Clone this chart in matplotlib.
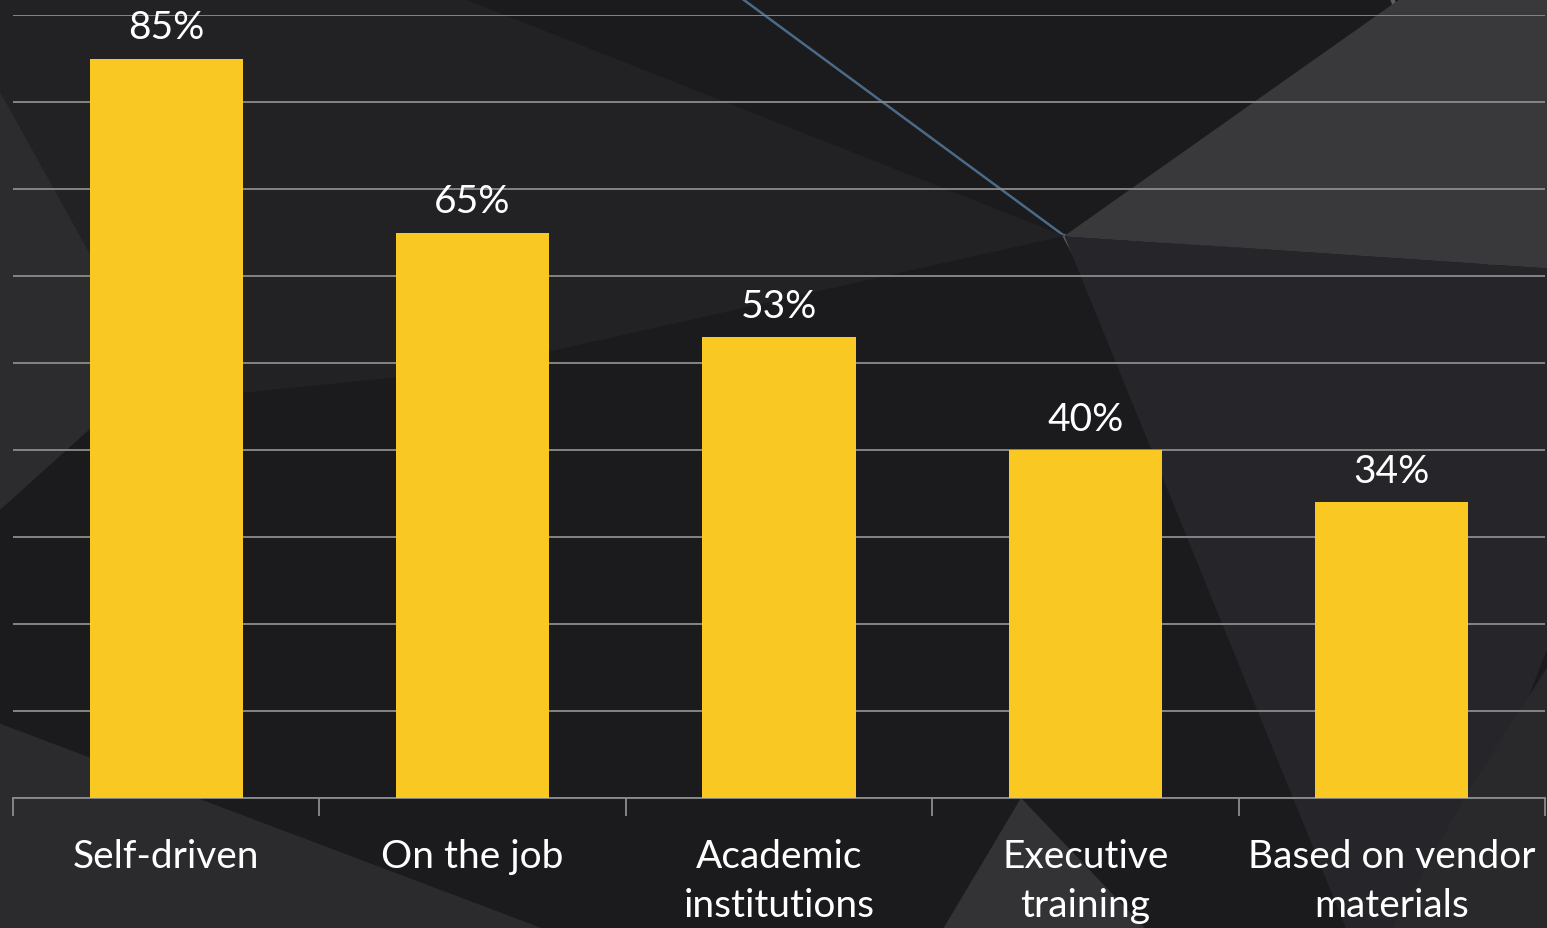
import numpy as np
import matplotlib.pyplot as plt
from matplotlib.patches import Polygon

categories = ["Self-driven", "On the job", "Academic\ninstitutions", "Executive\ntraining", "Based on vendor\nmaterials"]
values = [0.85, 0.65, 0.53, 0.40, 0.34]
labels = ["85%", "65%", "53%", "40%", "34%"]

bar_color = "#F9C823"
grid_color = "#8c8c8c"
plt.rcParams['font.family'] = ['Lato', 'DejaVu Sans']

fig = plt.figure(figsize=(15.47, 9.29), dpi=100)
fig.patch.set_facecolor("#1b1b1d")

#background decoration (figure coords), loosely following the dark geometric backdrop
shapes = [
    ([(0, 1), (0.30, 1), (0.688, 0.745), (0.30, 0.60), (0, 0.55)], "#222225"),
    ([(0, 0.90), (0.10, 0.60), (0, 0.45)], "#2c2c2f"),
    ([(0.688, 0.745), (0.905, 1), (1, 1), (1, 0.71)], "#39393b"),
    ([(0.688, 0.745), (1, 0.71), (1, 0.30), (0.93, 0.0), (0.87, 0.0)], "#25252a"),
    ([(0, 0.22), (0.35, 0.0), (0, 0.0)], "#2b2b2d"),
    ([(0.61, 0.0), (0.66, 0.14), (0.74, 0.0)], "#333335"),
    ([(0.95, 0.15), (1, 0.28), (1, 0.0), (0.90, 0.0)], "#29292b"),
]
for pts, col in shapes:
    fig.patches.append(Polygon(pts, closed=True, facecolor=col, edgecolor="none",
                               transform=fig.transFigure, zorder=0))
deco_lines = [
    ([0.48, 0.688], [1.0, 0.745], "#4a6a88", 1.8),
    ([0.688, 1.0], [0.745, 0.705], "#4a6a88", 1.8),
    ([0.688, 0.93], [0.745, 0.0], "#5e5e60", 2.5),
    ([0.90, 1.0], [1.0, 0.55], "#5e5e60", 3),
    ([0.19, 0.07], [1.0, 0.0], "#4e4e50", 3),
    ([0.28, 0.42], [1.0, 0.72], "#4a4a4c", 1.5),
]
for xs, ys, col, lw in deco_lines:
    fig.add_artist(plt.Line2D(xs, ys, color=col, lw=lw, transform=fig.transFigure, zorder=0))

ax = fig.add_axes([13 / 1547, 1 - 799 / 929, 1532 / 1547, (799 - 16) / 929])
ax.set_zorder(5)
ax.set_facecolor("none")

x = np.arange(len(categories))
ax.bar(x, values, width=0.5, color=bar_color, zorder=3)

for xi, v, lab in zip(x, values, labels):
    ax.text(xi, v + 0.015, lab, ha="center", va="bottom", color="white", fontsize=28, zorder=4)

ax.set_xlim(-0.5, len(categories) - 0.5)
ax.set_ylim(0, 0.9)
ax.set_yticks(np.arange(0, 0.91, 0.1))
ax.yaxis.grid(True, color=grid_color, lw=1.3, zorder=1)
ax.tick_params(axis="y", left=False, labelleft=False)

ax.set_xticks(x)
ax.set_xticklabels(categories, color="white", fontsize=28, linespacing=1.43)
ax.set_xticks(np.arange(-0.5, len(categories)), minor=True)
ax.tick_params(axis="x", which="major", length=0, pad=29)
ax.tick_params(axis="x", which="minor", length=13, width=1.3, color=grid_color, direction="out")

for s in ["top", "left", "right"]:
    ax.spines[s].set_visible(False)
ax.spines["bottom"].set_color(grid_color)
ax.spines["bottom"].set_linewidth(1.3)

fig.savefig("out.png", dpi=100, facecolor=fig.get_facecolor())
